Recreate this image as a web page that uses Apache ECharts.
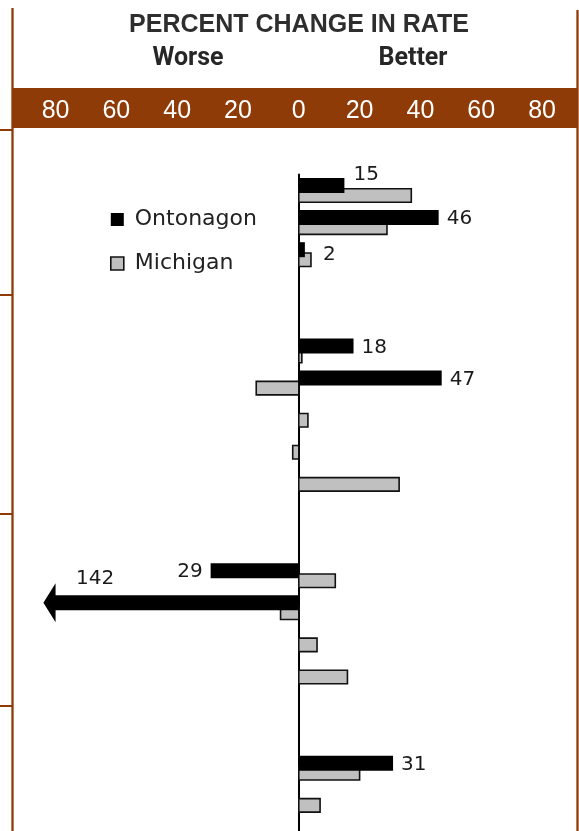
<!DOCTYPE html>
<html>
<head>
<meta charset="utf-8">
<script src="https://cdn.jsdelivr.net/npm/echarts@6/dist/echarts.min.js"></script>
<style>
  html, body { margin: 0; padding: 0; background: #fff; }
  #chart { width: 579px; height: 831px; }
</style>
</head>
<body>
<div id="chart"></div>
<script>
// ---- data ----
const categories = ['a1','a2','a3','gap1','gap2','b1','b2','b3','b4','b5','gap3','gap4','c1','c2','c3','c4','gap5','gap6','d1','d2','gap7'];
const ontonagon  = [15, 46, 2, null, null, 18, 47, null, null, null, null, null, -29, -142, null, null, null, null, 31, null, null];
const michigan   = [37, 29, 4, null, null, 1, -14, 3, -2, 33, null, null, 12, -6, 6, 16, null, null, 20, 7, null];
const tickValues = [-80, -60, -40, -20, 0, 20, 40, 60, 80];
const seriesNames = ['Ontonagon', 'Michigan'];
const titleText = 'PERCENT CHANGE IN RATE';
const worseText = 'Worse';
const betterText = 'Better';

// ---- display settings ----
const X_MIN = -94, X_MAX = 91.5;
const ARROW_CAP = -80, ARROW_TIP = -84, ARROW_LABEL_AT = -67;
const labelNudge = { 0: [1, -12.5], 2: [10, 4] };
const BROWN = '#8e3b07';
const GRAY = '#c0c0c0';

function toPairs(arr) {
  const out = [];
  arr.forEach((v, i) => { if (v !== null && v !== undefined) out.push([i, v]); });
  return out;
}

function renderOntonagon(params, api) {
  const cat = api.value(0), v = api.value(1);
  const p0 = api.coord([0, cat]);
  const x0 = p0[0], yc = p0[1] - 5;
  const h = 15;
  const children = [];
  const labelFont = 'normal 20px "DejaVu Sans"';
  if (v < ARROW_CAP) {
    const xb = api.coord([ARROW_CAP, cat])[0];
    const xt = api.coord([ARROW_TIP, cat])[0];
    children.push({
      type: 'polygon',
      shape: { points: [[x0, yc - h / 2], [xb, yc - h / 2], [xb, yc - 19.5], [xt, yc], [xb, yc + 19.5], [xb, yc + h / 2], [x0, yc + h / 2]] },
      style: { fill: '#000' }
    });
    children.push({
      type: 'text',
      x: api.coord([ARROW_LABEL_AT, cat])[0], y: yc - 24,
      style: { text: String(Math.abs(v)), font: labelFont, fill: '#1a1a1a', align: 'center', verticalAlign: 'middle' }
    });
  } else {
    const x1 = api.coord([v, cat])[0];
    children.push({
      type: 'rect',
      shape: { x: Math.min(x0, x1), y: yc - h / 2, width: Math.abs(x1 - x0), height: h },
      style: { fill: '#000' }
    });
    const n = labelNudge[cat] || [0, 0];
    children.push({
      type: 'text',
      x: x1 + (v >= 0 ? 8 : -8) + n[0], y: yc + 1.5 + n[1],
      style: { text: String(Math.abs(v)), font: labelFont, fill: '#1a1a1a', align: v >= 0 ? 'left' : 'right', verticalAlign: 'middle' }
    });
  }
  return { type: 'group', children: children };
}

function renderMichigan(params, api) {
  const cat = api.value(0), v = api.value(1);
  const p0 = api.coord([0, cat]);
  const x0 = p0[0], yc = p0[1] + 5;
  const x1 = api.coord([v, cat])[0];
  const h = 13.5;
  return {
    type: 'rect',
    shape: { x: Math.min(x0, x1), y: yc - h / 2, width: Math.abs(x1 - x0), height: h },
    style: { fill: GRAY, stroke: '#111', lineWidth: 1.6 }
  };
}

const chart = echarts.init(document.getElementById('chart'), null, { renderer: 'canvas' });

const option = {
  animation: false,
  backgroundColor: '#fff',
  textStyle: { fontFamily: 'DejaVu Sans' },
  grid: { left: 13, width: 564, top: 174.45, height: 674.1, containLabel: false, outerBoundsMode: 'none' },
  legend: {
    orient: 'vertical',
    left: 110, top: 208.5,
    padding: 0,
    itemWidth: 13, itemHeight: 13, itemGap: 22,
    selectedMode: false,
    textStyle: { fontFamily: 'DejaVu Sans', fontSize: 22, color: '#222', lineHeight: 22, padding: [0, 0, 0, 6] },
    data: [
      { name: seriesNames[0], icon: 'rect', itemStyle: { color: '#000', borderWidth: 0 } },
      { name: seriesNames[1], icon: 'rect', itemStyle: { color: GRAY, borderColor: '#111', borderWidth: 1.6 } }
    ]
  },
  xAxis: {
    type: 'value',
    min: X_MIN, max: X_MAX,
    position: 'top', offset: 46.45,
    z: 10,
    axisLine: { show: false },
    axisTick: { show: false },
    splitLine: { show: false },
    axisLabel: {
      customValues: tickValues,
      formatter: v => String(Math.abs(v)),
      color: '#fff', fontFamily: 'Liberation Sans', fontSize: 25, margin: 4
    }
  },
  yAxis: {
    type: 'category',
    data: categories,
    inverse: true,
    axisLine: { show: true, onZero: true, lineStyle: { color: '#000', width: 2 } },
    axisTick: { show: false },
    axisLabel: { show: false },
    splitLine: { show: false }
  },
  series: [
    {
      name: seriesNames[1], type: 'custom', renderItem: renderMichigan, z: 2,
      itemStyle: { color: GRAY, borderColor: '#111' },
      encode: { x: 1, y: 0 },
      data: toPairs(michigan)
    },
    {
      name: seriesNames[0], type: 'custom', renderItem: renderOntonagon, z: 3,
      itemStyle: { color: '#000' },
      encode: { x: 1, y: 0 },
      data: toPairs(ontonagon)
    }
  ],
  graphic: [
    { type: 'rect', z: -10, shape: { x: 12.5, y: 88, width: 565, height: 40 }, style: { fill: BROWN } },
    { type: 'line', shape: { x1: 12.5, y1: 8, x2: 12.5, y2: 831 }, style: { stroke: BROWN, lineWidth: 2.3 } },
    { type: 'line', shape: { x1: 577.5, y1: 10, x2: 577.5, y2: 831 }, style: { stroke: BROWN, lineWidth: 2.3 } },
    { type: 'line', shape: { x1: 0, y1: 130, x2: 12.5, y2: 130 }, style: { stroke: BROWN, lineWidth: 2 } },
    { type: 'line', shape: { x1: 0, y1: 295, x2: 12.5, y2: 295 }, style: { stroke: BROWN, lineWidth: 2 } },
    { type: 'line', shape: { x1: 0, y1: 514, x2: 12.5, y2: 514 }, style: { stroke: BROWN, lineWidth: 2 } },
    { type: 'line', shape: { x1: 0, y1: 706, x2: 12.5, y2: 706 }, style: { stroke: BROWN, lineWidth: 2 } },
    { type: 'text', x: 299, y: 25, style: { text: titleText, font: 'bold 25px "Liberation Sans"', fill: '#2e2e2e', align: 'center', verticalAlign: 'middle' } },
    { type: 'text', x: 188, y: 59, style: { text: worseText, font: 'bold 25px Roboto, "Liberation Sans"', fill: '#262626', align: 'center', verticalAlign: 'middle' } },
    { type: 'text', x: 413, y: 59, style: { text: betterText, font: 'bold 25px Roboto, "Liberation Sans"', fill: '#262626', align: 'center', verticalAlign: 'middle' } }
  ]
};

chart.setOption(option);
</script>
</body>
</html>
